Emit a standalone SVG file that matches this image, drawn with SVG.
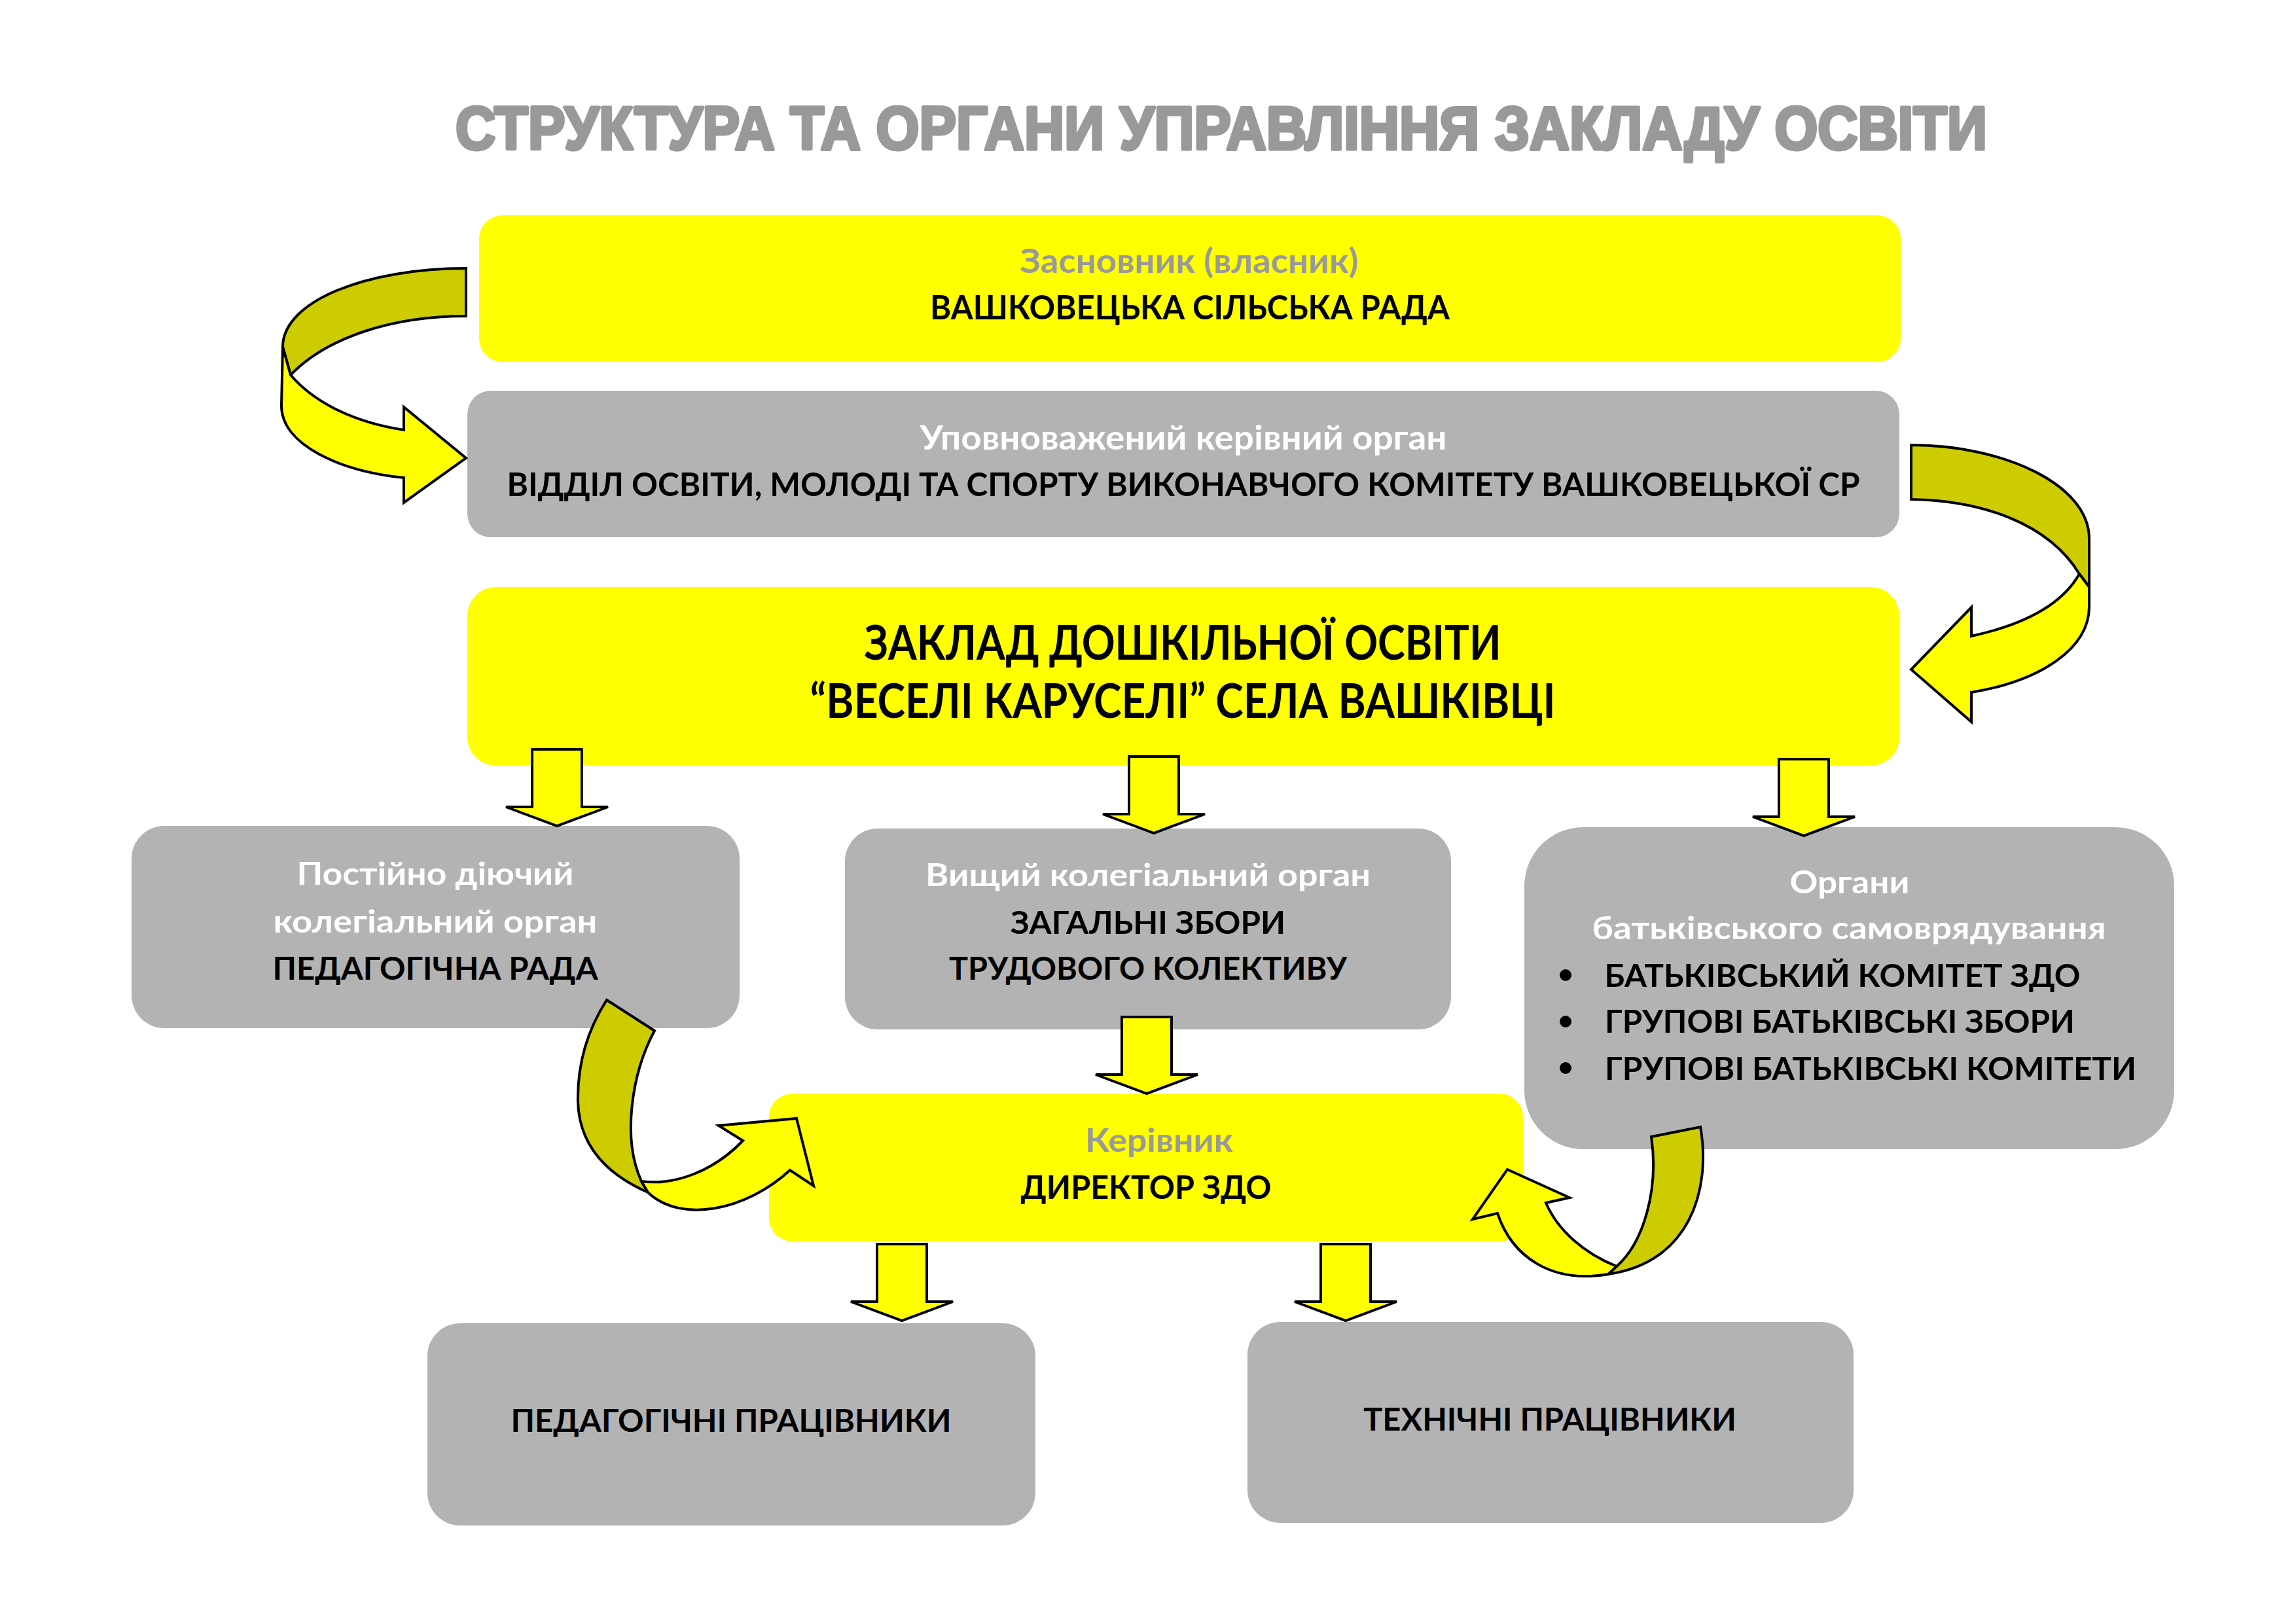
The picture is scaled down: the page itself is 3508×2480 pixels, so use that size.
<svg xmlns="http://www.w3.org/2000/svg" width="3508" height="2480" viewBox="0 0 3508 2480">
<style>
.y{fill:#FFFF00}
.g{fill:#B3B3B3}
.t{font-family:Lato,"Open Sans","Liberation Sans",sans-serif;font-weight:700;text-anchor:middle}
.k{fill:#000}
.w{fill:#fff}
.s{fill:#999999}
.ar{stroke:#000;stroke-width:4;stroke-linejoin:miter}
.ay{fill:#FFFF00}
.ao{fill:#CCCC00}
</style>
<defs>
<path id="down" d="M-38,0 L38,0 L38,88 L78,88 L0,117 L-78,88 L-38,88 Z"/>
</defs>
<rect width="3508" height="2480" fill="#fff"/>
<text x="1866" y="228" font-family="'Liberation Sans','Arial',sans-serif" font-weight="900" font-size="92" fill="#999999" stroke="#999999" stroke-width="5" stroke-linejoin="round" text-anchor="middle" textLength="2340" lengthAdjust="spacingAndGlyphs">СТРУКТУРА ТА ОРГАНИ УПРАВЛІННЯ ЗАКЛАДУ ОСВІТИ</text>

<g id="node-founder">
<rect class="y" x="732" y="329" width="2172" height="224" rx="36"/>
<text class="t s" x="1817" y="417" font-size="51" textLength="517" lengthAdjust="spacingAndGlyphs">Засновник (власник)</text>
<text class="t k" x="1818" y="488" font-size="51" textLength="794" lengthAdjust="spacingAndGlyphs">ВАШКОВЕЦЬКА СІЛЬСЬКА РАДА</text>
</g>
<g id="node-department">
<rect class="g" x="714" y="597" width="2188" height="224" rx="36"/>
<text class="t w" x="1808" y="687" font-size="51" textLength="805" lengthAdjust="spacingAndGlyphs">Уповноважений керівний орган</text>
<text class="t k" x="1808" y="758" font-size="49" textLength="2067" lengthAdjust="spacingAndGlyphs">ВІДДІЛ ОСВІТИ, МОЛОДІ ТА СПОРТУ ВИКОНАВЧОГО КОМІТЕТУ ВАШКОВЕЦЬКОЇ СР</text>
</g>
<g id="node-school">
<rect class="y" x="714" y="897" width="2188" height="273" rx="44"/>
<text class="t k" x="1807" y="1008" font-size="72" textLength="973" lengthAdjust="spacingAndGlyphs">ЗАКЛАД ДОШКІЛЬНОЇ ОСВІТИ</text>
<text class="t k" x="1807" y="1097" font-size="72" textLength="1139" lengthAdjust="spacingAndGlyphs">“ВЕСЕЛІ КАРУСЕЛІ” СЕЛА ВАШКІВЦІ</text>
</g>
<g id="node-pedrada">
<rect class="g" x="201" y="1262" width="929" height="309" rx="50"/>
<text class="t w" x="665" y="1352" font-size="47" textLength="423" lengthAdjust="spacingAndGlyphs">Постійно діючий</text>
<text class="t w" x="665" y="1425" font-size="47" textLength="495" lengthAdjust="spacingAndGlyphs">колегіальний орган</text>
<text class="t k" x="665" y="1497" font-size="47" textLength="497" lengthAdjust="spacingAndGlyphs">ПЕДАГОГІЧНА РАДА</text>
</g>
<g id="node-assembly">
<rect class="g" x="1291" y="1266" width="926" height="307" rx="50"/>
<text class="t w" x="1754" y="1354" font-size="47" textLength="680" lengthAdjust="spacingAndGlyphs">Вищий колегіальний орган</text>
<text class="t k" x="1754" y="1427" font-size="47" textLength="420" lengthAdjust="spacingAndGlyphs">ЗАГАЛЬНІ ЗБОРИ</text>
<text class="t k" x="1754" y="1497" font-size="47" textLength="608" lengthAdjust="spacingAndGlyphs">ТРУДОВОГО КОЛЕКТИВУ</text>
</g>
<g id="node-parents">
<rect class="g" x="2329" y="1264" width="993" height="492" rx="90"/>
<text class="t w" x="2826" y="1365" font-size="47" textLength="183" lengthAdjust="spacingAndGlyphs">Органи</text>
<text class="t w" x="2825" y="1435" font-size="47" textLength="785" lengthAdjust="spacingAndGlyphs">батьківського самоврядування</text>
<circle cx="2392" cy="1490" r="9" fill="#000"/>
<circle cx="2392" cy="1561" r="9" fill="#000"/>
<circle cx="2392" cy="1632" r="9" fill="#000"/>
<text class="t k" x="2815" y="1508" font-size="47" textLength="727" lengthAdjust="spacingAndGlyphs">БАТЬКІВСЬКИЙ КОМІТЕТ ЗДО</text>
<text class="t k" x="2811" y="1578" font-size="47" textLength="718" lengthAdjust="spacingAndGlyphs">ГРУПОВІ БАТЬКІВСЬКІ ЗБОРИ</text>
<text class="t k" x="2858" y="1650" font-size="47" textLength="812" lengthAdjust="spacingAndGlyphs">ГРУПОВІ БАТЬКІВСЬКІ КОМІТЕТИ</text>
</g>
<g id="node-director">
<rect class="y" x="1175" y="1671" width="1152" height="226" rx="36"/>
<text class="t s" x="1771" y="1760" font-size="49" textLength="226" lengthAdjust="spacingAndGlyphs">Керівник</text>
<text class="t k" x="1751" y="1832" font-size="49" textLength="383" lengthAdjust="spacingAndGlyphs">ДИРЕКТОР ЗДО</text>
</g>
<g id="node-pedstaff">
<rect class="g" x="653" y="2022" width="929" height="309" rx="50"/>
<text class="t k" x="1117" y="2188" font-size="47" textLength="673" lengthAdjust="spacingAndGlyphs">ПЕДАГОГІЧНІ ПРАЦІВНИКИ</text>
</g>
<g id="node-techstaff">
<rect class="g" x="1906" y="2020" width="926" height="307" rx="50"/>
<text class="t k" x="2368" y="2186" font-size="47" textLength="570" lengthAdjust="spacingAndGlyphs">ТЕХНІЧНІ ПРАЦІВНИКИ</text>
</g>

<g id="connectors" class="ar">
<use href="#down" class="ay" transform="translate(851,1145)"/>
<use href="#down" class="ay" transform="translate(1763,1156)"/>
<use href="#down" class="ay" transform="translate(2756,1160)"/>
<use href="#down" class="ay" transform="translate(1752,1554)"/>
<use href="#down" class="ay" transform="translate(1378,1901)"/>
<use href="#down" class="ay" transform="translate(2056,1901)"/>

<g id="curve-founder-dept">
<path class="ao" d="M712,410 C560,410 432,460 432,530 L444,573 C500,515 600,483 712,483 Z"/>
<path class="ay" d="M432,530 L444,573 C480,615 540,645 617,657 L617,622 L712,700 L617,768 L617,730 C520,720 430,680 430,620 Z"/>
</g>
<g id="curve-dept-school">
<path class="ao" d="M2920,680 C3060,680 3192,740 3192,823 L3192,897 L3177,877 C3130,800 3030,765 2920,763 Z"/>
<path class="ay" d="M3177,877 L3192,897 L3192,927 C3192,990 3120,1040 3012,1058 L3012,1103 L2920,1023 L3012,928 L3012,972 C3090,955 3150,925 3177,877 Z"/>
</g>
<g id="curve-pedrada-director">
<path class="ao" d="M927,1528 L1000,1575 C965,1640 950,1740 980,1805 L990,1822 C940,1800 885,1760 883,1683 C882,1620 900,1570 927,1528 Z"/>
<path class="ay" d="M980,1805 C1030,1812 1090,1790 1135,1743 L1098,1720 L1217,1709 L1243,1812 L1207,1788 C1140,1850 1040,1870 990,1822 Z"/>
</g>
<g id="curve-parents-director">
<path class="ao" d="M2523,1737 L2598,1722 C2615,1820 2580,1930 2457,1947 L2470,1935 C2510,1900 2535,1820 2523,1737 Z"/>
<path class="ay" d="M2470,1935 C2420,1915 2380,1880 2362,1838 L2398,1830 L2303,1787 L2250,1863 L2288,1854 C2310,1920 2370,1962 2457,1947 Z"/>
</g>
</g>
</svg>
